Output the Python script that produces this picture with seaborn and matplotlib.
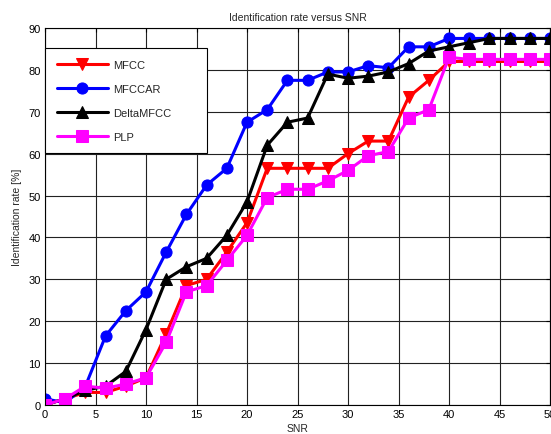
import numpy as np
import pandas as pd
import matplotlib
matplotlib.use('Agg')
import matplotlib.pyplot as plt
import seaborn as sns

# Data
snr = list(range(0, 51, 2))
mfcc = [0, 1.5, 3, 3, 4.5, 6.5, 17, 28.5, 30, 36.5, 43.5, 56.5, 56.5, 56.5,
        56.5, 60, 63, 63, 73.5, 77.5, 82, 82, 82, 82, 82, 82]
mfccar = [1.5, 0.5, 4.5, 16.5, 22.5, 27, 36.5, 45.5, 52.5, 56.5, 67.5, 70.5, 77.5, 77.5,
          79.5, 79.5, 81, 80.5, 85.5, 85.5, 87.5, 87.5, 87.5, 87.5, 87.5, 87.5]
delta = [0, 1.5, 3.5, 4.5, 8, 18, 30, 33, 35, 40.5, 48.5, 62, 67.5, 68.5,
         79, 78, 78.5, 79.5, 81.5, 84.5, 85.5, 86.5, 87.5, 87.5, 87.5, 87.5]
plp = [0, 1.5, 4.5, 4, 5, 6.5, 15, 27, 28.5, 34.5, 40.5, 49.5, 51.5, 51.5,
       53.5, 56, 59.5, 60.5, 68.5, 70.5, 83, 82.5, 82.5, 82.5, 82.5, 82.5]

methods = ['MFCC', 'MFCCAR', 'DeltaMFCC', 'PLP']
colors = ['#ff0000', '#0000ff', '#000000', '#ff00ff']
markers = ['v', 'o', '^', 's']

df = pd.DataFrame({'SNR': snr * 4,
                   'rate': mfcc + mfccar + delta + plp,
                   'method': np.repeat(methods, len(snr))})

sns.set_style('white')
plt.rcParams['font.family'] = ['Liberation Sans', 'DejaVu Sans']

fig = plt.figure(figsize=(5.51, 4.35), dpi=100)
ax = fig.add_axes([0.0817, 0.0667, 0.9165, 0.8667])

for m, c, mk in zip(methods, colors, markers):
    sns.lineplot(data=df[df['method'] == m], x='SNR', y='rate', color=c,
                 marker=mk, markersize=8, markeredgecolor=c, linewidth=2.2,
                 label=m, ax=ax)

ax.set_xlim(0, 50)
ax.set_ylim(0, 90)
ax.set_xticks(range(0, 51, 5))
ax.set_yticks(range(0, 91, 10))
ax.grid(True, color='#222222', linewidth=0.8, linestyle='-')
ax.set_axisbelow(True)
for s in ax.spines.values():
    s.set_color('black')
    s.set_linewidth(0.8)
ax.tick_params(direction='in', length=3, labelsize=8, top=True, right=True,
               colors='black', pad=3)

ax.set_title('Identification rate versus SNR', fontsize=7.5, pad=6)
ax.set_xlabel('SNR', fontsize=7.5, labelpad=3)
ax.set_ylabel('Identification rate [%]', fontsize=7.5, labelpad=5)

leg = ax.legend(loc='upper left', bbox_to_anchor=(0, 0.946 - 0.281, 0.32, 0.281),
                mode='expand', borderaxespad=0, fontsize=8, handlelength=4.6,
                handletextpad=0.5, labelspacing=1.25, borderpad=1.05,
                fancybox=False, framealpha=1, edgecolor='black')
leg.get_frame().set_linewidth(0.8)

plt.savefig('out.png', dpi=100)
